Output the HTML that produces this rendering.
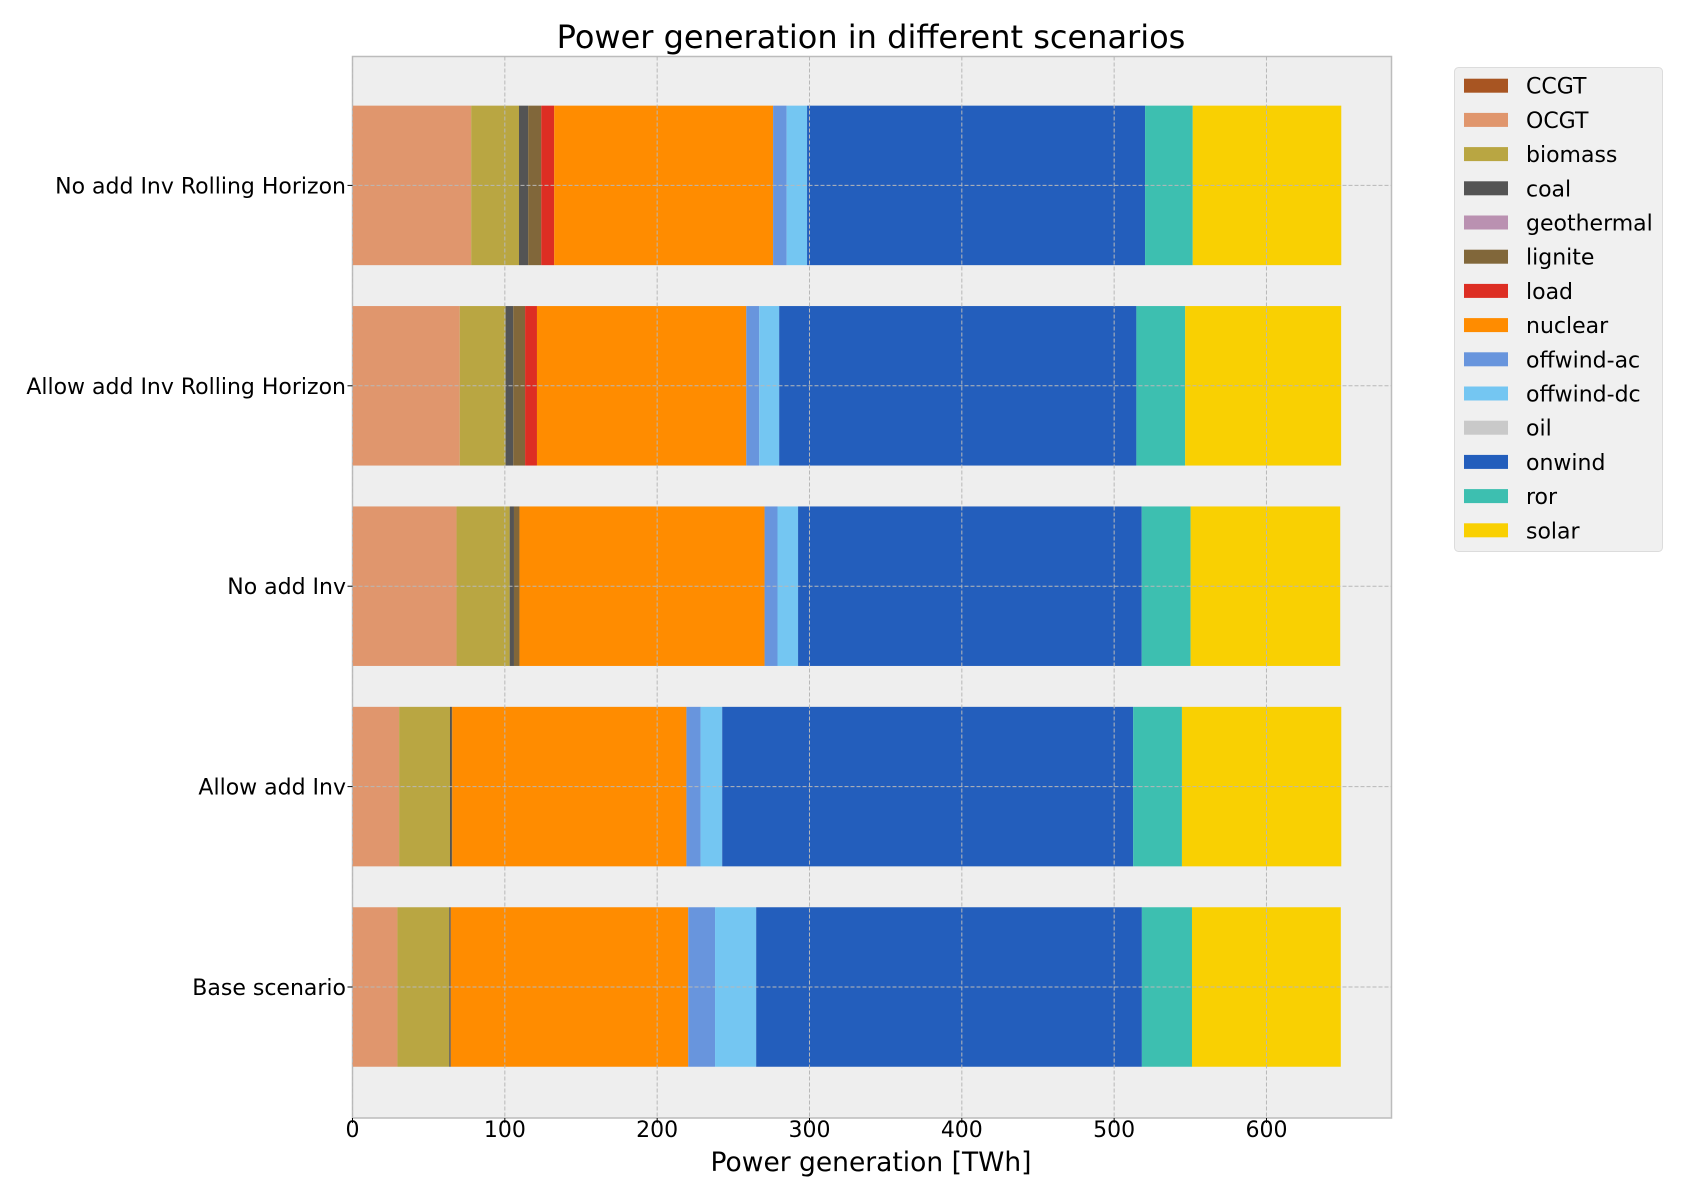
<!DOCTYPE html>
<html><head><meta charset="utf-8"><style>
body{margin:0;background:#fff;}
svg{display:block;font-family:"DejaVu Sans","Liberation Sans",sans-serif;}
</style></head><body>
<svg id="chart" width="1700" height="1200" viewBox="0 0 1700 1200" xmlns="http://www.w3.org/2000/svg">
<rect width="1700" height="1200" fill="#fff"/>
<text x="871" y="48" font-size="32" text-anchor="middle">Power generation in different scenarios</text>
<rect x="352.5" y="56.5" width="1039" height="1061.5" fill="#eeeeee" stroke="#bcbcbc" stroke-width="1.5"/>
<g id="bars"></g><g id="grid"></g><g id="axes"></g>
<text x="871" y="1171" font-size="26.5" text-anchor="middle">Power generation [TWh]</text>
<g id="legend"></g>
</svg>
<script>
const categories = ["Base scenario","Allow add Inv","No add Inv","Allow add Inv Rolling Horizon","No add Inv Rolling Horizon"];
const carriers = ["CCGT","OCGT","biomass","coal","geothermal","lignite","load","nuclear","offwind-ac","offwind-dc","oil","onwind","ror","solar"];
const colors = ["#a85522","#e0966d","#b9a642","#545454","#ba91b1","#81673a","#dd2e23","#ff8c00","#6895dd","#74c6f2","#c9c9c9","#235ebc","#3dbfb0","#f9d002"];
const baseScenario = [0,29.5,34,1,0,0,0,155.9,17.6,27,0,253.2,32.9,97.7];
const allowAddInv = [0,30.6,33.4,1,0,0.5,0,153.7,9.3,14.2,0,269.8,32,104.6];
const noAddInv = [0,68.3,34.9,2.8,0,3.6,0,160.9,8.5,13.5,0,225.6,32.1,98.2];
const allowAddInvRH = [0,70.4,30.1,5,0,7.8,7.8,137.4,8.5,13.1,0,234.5,32,102.4];
const noAddInvRH = [0,77.9,31.4,6,0,8.6,8.5,143.7,8.9,13.4,0,221.9,31.3,97.5];
const values = [baseScenario, allowAddInv, noAddInv, allowAddInvRH, noAddInvRH];
const xTicks = [0,100,200,300,400,500,600];

const NS="http://www.w3.org/2000/svg";
const X0=352.5, PXU=1.5233;
const xs=v=>X0+v*PXU;
const ys=i=>987-200.4*i;
const BH=159.5;
function mk(tag,attrs,parent){const e=document.createElementNS(NS,tag);for(const k in attrs)e.setAttribute(k,attrs[k]);parent.appendChild(e);return e;}
const bars=document.getElementById('bars'), grid=document.getElementById('grid'), axes=document.getElementById('axes'), legend=document.getElementById('legend');

values.forEach((row,i)=>{
  let acc=0;
  row.forEach((v,j)=>{
    if(v>0){
      const r=mk('rect',{x:xs(acc),y:ys(i)-BH/2,width:v*PXU,height:BH,fill:colors[j]},bars);
      
      
    }
    acc+=v;
  });
});
xTicks.forEach(t=>{
  const l=mk('line',{x1:xs(t),x2:xs(t),y1:56.5,y2:1118,stroke:'#b8b8b8','stroke-width':1,'stroke-dasharray':'4,2'},grid);
  
  
  mk('line',{x1:xs(t),x2:xs(t),y1:1118,y2:1123,stroke:'#000','stroke-width':1},axes);
  const tx=mk('text',{x:xs(t),y:1137,'font-size':22,'text-anchor':'middle'},axes);
  tx.textContent=t;
  
  
});
categories.forEach((c,i)=>{
  const l=mk('line',{x1:352.5,x2:1391.5,y1:ys(i),y2:ys(i),stroke:'#b8b8b8','stroke-width':1,'stroke-dasharray':'4,2'},grid);
  
  
  mk('line',{x1:347.5,x2:352.5,y1:ys(i),y2:ys(i),stroke:'#000','stroke-width':1},axes);
  const tx=mk('text',{x:346,y:ys(i)+8,'font-size':22,'text-anchor':'end'},axes);
  tx.textContent=c;
  
  
});
const lb=mk('rect',{x:1454.5,y:67.5,width:208,height:484,rx:4,fill:'#f0f0f0',stroke:'#dcdcdc','stroke-width':1},legend);


carriers.forEach((c,j)=>{
  const cy=85.7+34.2*j;
  const p=mk('rect',{x:1464,y:cy-7,width:44,height:14,fill:colors[j]},legend);
  
  
  const t=mk('text',{x:1526,y:cy+8,'font-size':22},legend);
  t.textContent=c;
  
  
});
</script>
</body></html>
